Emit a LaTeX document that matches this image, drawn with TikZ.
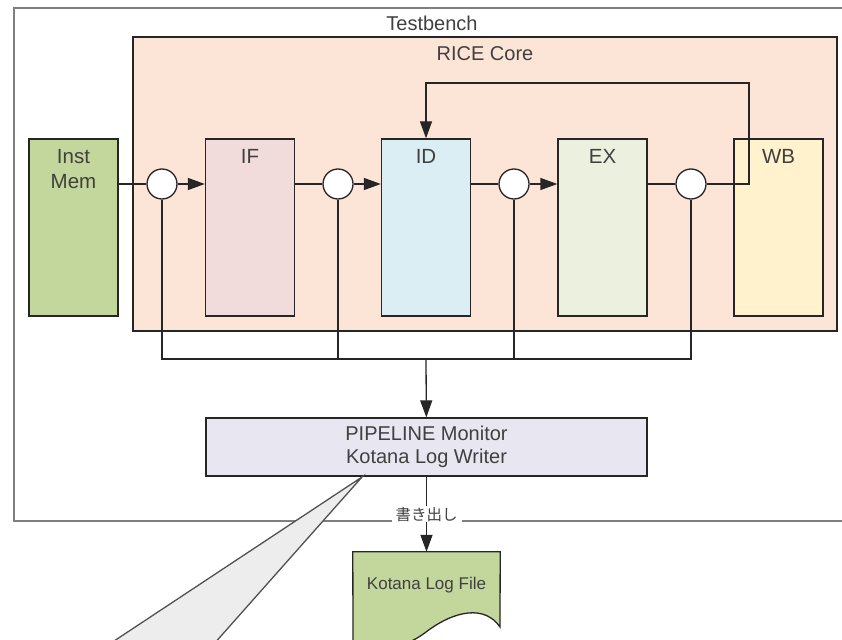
\documentclass[tikz,border=0pt]{standalone}
\usepackage{fontspec}
\setmainfont{Liberation Sans}
\newfontfamily\jpfont{Noto Sans CJK JP}
\usetikzlibrary{arrows.meta}

\definecolor{tbgrey}{HTML}{7F7F7F}
\definecolor{linecol}{HTML}{262626}
\definecolor{txtcol}{HTML}{404040}
\definecolor{corecol}{HTML}{FCE5D7}
\definecolor{memcol}{HTML}{C3D69B}
\definecolor{ifcol}{HTML}{F2DCDB}
\definecolor{idcol}{HTML}{DAEEF3}
\definecolor{excol}{HTML}{EBF1DE}
\definecolor{wbcol}{HTML}{FFF2CC}
\definecolor{moncol}{HTML}{E8E6F0}
\definecolor{callcol}{HTML}{EDEDED}

\tikzset{
  bigtext/.style={font=\fontsize{20}{24}\selectfont, text=txtcol},
  stagetext/.style={font=\fontsize{20.5}{25}\selectfont, text=txtcol, align=center},
  stage/.style={draw=linecol, line width=1.3pt, minimum width=89pt, minimum height=177pt,
    label={[stagetext, anchor=north, yshift=-8pt]north:#1}},
  tap/.style={circle, draw=linecol, line width=1.3pt, fill=white, minimum size=30pt, inner sep=0pt},
  wire/.style={draw=linecol, line width=1.3pt},
  arr/.style={wire, -{Triangle[length=17pt, width=12pt]}}
}

\begin{document}
\begin{tikzpicture}[x=1pt, y=-1pt]
  \useasboundingbox (0,0) rectangle (842,639);

  % testbench and core
  \node[draw=tbgrey, line width=2pt, fill=white, minimum width=836pt, minimum height=513pt,
        label={[bigtext, anchor=north, yshift=-5pt]north:Testbench}] (tb) at (432,264.5) {};
  \node[draw=linecol, line width=1.3pt, fill=corecol, minimum width=704pt, minimum height=294pt,
        label={[bigtext, anchor=north, yshift=-7pt]north:RICE Core}] (core) at (485,184) {};

  % stages
  \node[stage={Inst\\Mem}, fill=memcol] (mem) at (73.5,227.5) {};
  \node[stage=IF, fill=ifcol] (if) at (250,227.5) {};
  \node[stage=ID, fill=idcol] (id) at (426,227.5) {};
  \node[stage=EX, fill=excol] (ex) at (602.5,227.5) {};
  \node[stage=WB, fill=wbcol] (wb) at (778.5,227.5) {};

  % pipeline taps
  \node[tap] (t1) at (162,184) {};
  \node[tap] (t2) at (338,184) {};
  \node[tap] (t3) at (514,184) {};
  \node[tap] (t4) at (691,184) {};

  \coordinate (fb) at (749,83);
  \coordinate (busl) at (162,359);
  \coordinate (busr) at (691,359);

  \draw[wire] (mem.east |- t1) -- (t1);
  \draw[arr] (t1) -- (if.west |- t1);
  \draw[wire] (if.east |- t2) -- (t2);
  \draw[arr] (t2) -- (id.west |- t2);
  \draw[wire] (id.east |- t3) -- (t3);
  \draw[arr] (t3) -- (ex.west |- t3);
  \draw[wire] (ex.east |- t4) -- (t4);
  \draw[arr] (t4) -| (fb) -| (id);

  % monitor bus
  \draw[wire] (t1) -- (busl) -- (busr) -- (t4);
  \draw[wire] (t2) -- (t2 |- busl);
  \draw[wire] (t3) -- (t3 |- busl);

  \node[draw=linecol, line width=1.3pt, fill=moncol, minimum width=441pt, minimum height=58pt,
        font=\fontsize{20}{22.5}\selectfont, text=txtcol, align=center] (mon) at (426.5,447)
        {PIPELINE Monitor\\Kotana Log Writer};
  \draw[arr] (id |- busl) -- (mon);

  % log file
  \node[minimum width=147pt, minimum height=66pt] (log) at (426.5,585) {};
  \draw[draw=linecol, line width=1.3pt, fill=memcol] (log.north west) -- (log.north east)
    -- (500,627) .. controls (485,605) and (455,610) .. (426,632)
    .. controls (400,652) and (370,652) .. (353,645) -- cycle;
  \node[font=\fontsize{17}{20}\selectfont, text=txtcol] at (log) {Kotana Log File};
  \draw[arr] (mon) -- node[fill=white, inner xsep=4pt, inner ysep=1pt,
        font=\jpfont\fontsize{15.5}{18}\selectfont, text=txtcol] (wr) {書き出し} (log);

  % callout
  \coordinate (tip) at (362,477);
  \filldraw[draw=linecol!80, line width=1.3pt, fill=callcol] (tip) -- (108,645) -- (213,645) -- cycle;
\end{tikzpicture}
\end{document}
